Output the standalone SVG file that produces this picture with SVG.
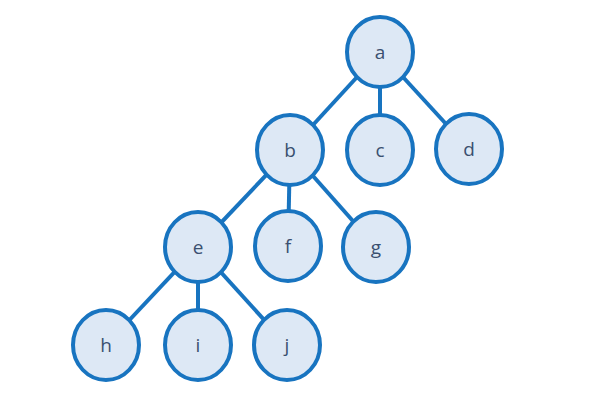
<svg xmlns="http://www.w3.org/2000/svg" width="600" height="406" viewBox="0 0 600 406">
<style>
.n ellipse{fill:#dde8f5;stroke:#1874c0;stroke-width:4}
.n text{font-family:"Open Sans","Liberation Sans",sans-serif;font-size:19px;fill:#3a5070;text-anchor:middle;dominant-baseline:central}
.e line{stroke:#1874c0;stroke-width:4}
</style>
<rect width="600" height="406" fill="#fff"/>
<g class="e">
<line x1="380" y1="52" x2="290" y2="150"/>
<line x1="380" y1="52" x2="380" y2="150"/>
<line x1="380" y1="52" x2="469" y2="149"/>
<line x1="290" y1="150" x2="198" y2="247"/>
<line x1="290" y1="150" x2="288" y2="246"/>
<line x1="290" y1="150" x2="376" y2="247"/>
<line x1="198" y1="247" x2="106" y2="345"/>
<line x1="198" y1="247" x2="198" y2="345"/>
<line x1="198" y1="247" x2="287" y2="345"/>
</g>
<g id="a" class="n"><ellipse cx="380" cy="52" rx="33" ry="35"/><text x="380" y="52">a</text></g>
<g id="b" class="n"><ellipse cx="290" cy="150" rx="33" ry="35"/><text x="290" y="150">b</text></g>
<g id="c" class="n"><ellipse cx="380" cy="150" rx="33" ry="35"/><text x="380" y="150">c</text></g>
<g id="d" class="n"><ellipse cx="469" cy="149" rx="33" ry="35"/><text x="469" y="149">d</text></g>
<g id="e" class="n"><ellipse cx="198" cy="247" rx="33" ry="35"/><text x="198" y="247">e</text></g>
<g id="f" class="n"><ellipse cx="288" cy="246" rx="33" ry="35"/><text x="288" y="246">f</text></g>
<g id="g" class="n"><ellipse cx="376" cy="247" rx="33" ry="35"/><text x="376" y="247">g</text></g>
<g id="h" class="n"><ellipse cx="106" cy="345" rx="33" ry="35"/><text x="106" y="345">h</text></g>
<g id="i" class="n"><ellipse cx="198" cy="345" rx="33" ry="35"/><text x="198" y="345">i</text></g>
<g id="j" class="n"><ellipse cx="287" cy="345" rx="33" ry="35"/><text x="287" y="345">j</text></g>
</svg>
